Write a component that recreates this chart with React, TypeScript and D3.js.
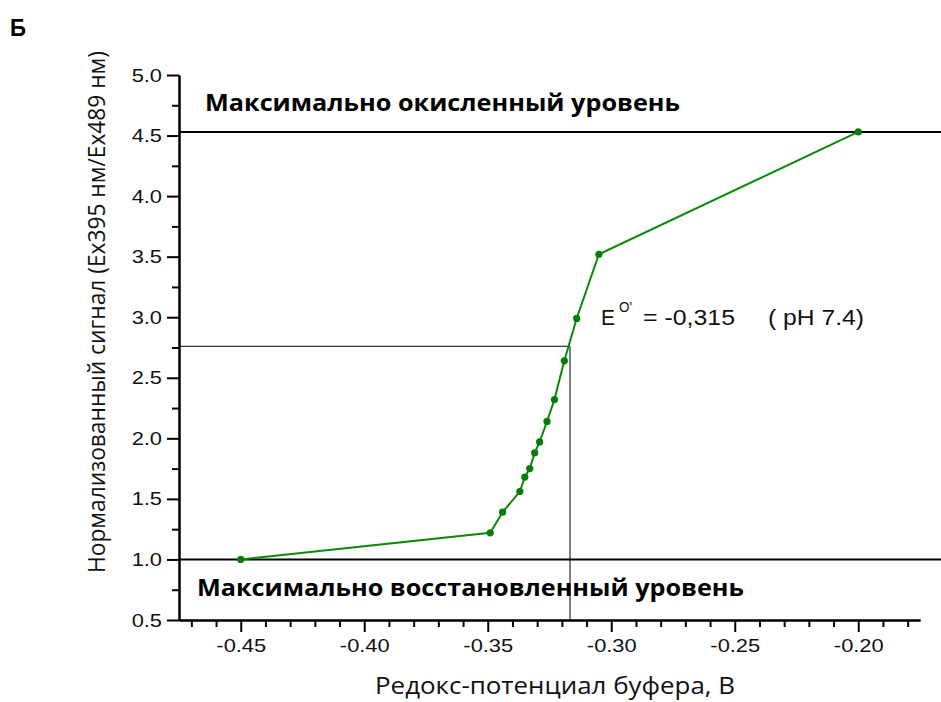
import React, { useEffect, useRef } from 'react';
import * as d3 from 'd3';

// measured redox titration points (buffer potential, V)
const potentials = [-0.45, -0.349, -0.344, -0.337, -0.335, -0.333, -0.331, -0.329, -0.326, -0.323, -0.319, -0.314, -0.305, -0.2];
const signals = [1.0, 1.22, 1.39, 1.56, 1.68, 1.75, 1.88, 1.97, 2.14, 2.32, 2.64, 2.99, 3.52, 4.53];

const xMajorTicks = [-0.45, -0.4, -0.35, -0.3, -0.25, -0.2];
const xMinorTicks = [-0.47, -0.46, -0.44, -0.43, -0.42, -0.41, -0.39, -0.38, -0.37, -0.36, -0.34, -0.33, -0.32, -0.31, -0.29, -0.28, -0.27, -0.26, -0.24, -0.23, -0.22, -0.21, -0.19, -0.18];
const yMajorTicks = [0.5, 1.0, 1.5, 2.0, 2.5, 3.0, 3.5, 4.0, 4.5, 5.0];
const yMinorTicks = [0.75, 1.25, 1.75, 2.25, 2.75, 3.25, 3.75, 4.25, 4.75];

const oxidizedLevel = 4.53;
const reducedLevel = 1.0;
const midpointX = -0.3167;
const midpointY = 2.76;

const W = 941;
const H = 702;
const margin = { left: 179, right: 21, top: 75, bottom: 82 };
const ARIAL = '"Liberation Sans", Arial, sans-serif';

const App = () => {
  const gRef = useRef<SVGGElement>(null);

  const x = d3.scaleLinear().domain([-0.475, -0.175]).range([margin.left, W - margin.right]);
  const y = d3.scaleLinear().domain([0.5, 5.0]).range([H - margin.bottom, margin.top]);

  useEffect(() => {
    const g = d3.select(gRef.current);
    g.selectAll('*').remove();
    const fmt1 = (d: any) => (+d).toFixed(1);
    const fmt2 = (d: any) => (+d).toFixed(2);

    // the original figure is a bit stretched horizontally
    const style = (sel: any) => {
      sel.selectAll('path').attr('stroke', '#000').attr('stroke-width', 2);
      sel.selectAll('line').attr('stroke', '#000').attr('stroke-width', 2);
      sel.selectAll('text')
        .attr('fill', '#111')
        .style('font-family', ARIAL)
        .style('font-size', '19px')
        .each(function (this: SVGTextElement) {
          const w = this.getComputedTextLength();
          if (w > 0) {
            this.setAttribute('textLength', String(w * 1.15));
            this.setAttribute('lengthAdjust', 'spacingAndGlyphs');
          }
        });
    };

    g.append('g')
      .attr('transform', `translate(0,${y(0.5)})`)
      .call(d3.axisBottom(x).tickValues(xMinorTicks).tickSize(7).tickFormat(() => '').tickSizeOuter(0))
      .call(style);
    g.append('g')
      .attr('transform', `translate(0,${y(0.5)})`)
      .call(d3.axisBottom(x).tickValues(xMajorTicks).tickSize(12).tickPadding(7).tickFormat(fmt2).tickSizeOuter(0))
      .call(style);

    g.append('g')
      .attr('transform', `translate(${x(-0.475)},0)`)
      .call(d3.axisLeft(y).tickValues(yMinorTicks).tickSize(7).tickFormat(() => '').tickSizeOuter(0))
      .call(style);
    g.append('g')
      .attr('transform', `translate(${x(-0.475)},0)`)
      .call(d3.axisLeft(y).tickValues(yMajorTicks).tickSize(12).tickPadding(5).tickFormat(fmt1).tickSizeOuter(0))
      .call(style);
  }, []);

  const line = d3.line<number>()
    .x((_, i) => x(potentials[i]))
    .y((d) => y(d));

  const x0 = x(-0.475);
  const yBase = y(0.5);

  return (
    <svg width={W} height={H} style={{ position: 'absolute', left: 0, top: 0, background: '#fff' }}>
      <text x={10} y={36} fontFamily={ARIAL} fontWeight="bold" fontSize={24}
        textLength={16} lengthAdjust="spacingAndGlyphs">Б</text>

      {/* level lines */}
      <line x1={x0} x2={W} y1={y(oxidizedLevel)} y2={y(oxidizedLevel)} stroke="#000" strokeWidth={2} />
      <line x1={x0} x2={W} y1={y(reducedLevel)} y2={y(reducedLevel)} stroke="#000" strokeWidth={2} />

      {/* midpoint guide lines */}
      <line x1={x0} x2={x(midpointX)} y1={y(midpointY)} y2={y(midpointY)} stroke="#000" strokeWidth={1} />
      <line x1={x(midpointX)} x2={x(midpointX)} y1={y(midpointY)} y2={yBase} stroke="#000" strokeWidth={1} />

      <g ref={gRef} />

      <path d={line(signals) || ''} fill="none" stroke="#0a8a0a" strokeWidth={2} />
      {signals.map((s, i) => (
        <circle key={i} cx={x(potentials[i])} cy={y(s)} r={3.6} fill="#077d07" />
      ))}

      <text x={205} y={111} fontFamily='"Open Sans", sans-serif' fontWeight="bold" fontSize={24}
        textLength={475} lengthAdjust="spacingAndGlyphs" fill="#000">Максимально окисленный уровень</text>
      <text x={197} y={596} fontFamily='"Open Sans", sans-serif' fontWeight="bold" fontSize={24}
        textLength={547} lengthAdjust="spacingAndGlyphs" fill="#000">Максимально восстановленный уровень</text>

      <g fontFamily={ARIAL} fill="#111">
        <text x={601} y={325} fontSize={22} textLength={14} lengthAdjust="spacingAndGlyphs">E</text>
        <text x={619} y={312} fontSize={14} textLength={13} lengthAdjust="spacingAndGlyphs">O'</text>
        <text x={643} y={325} fontSize={22} textLength={92} lengthAdjust="spacingAndGlyphs">= -0,315</text>
        <text x={768} y={325} fontSize={22} textLength={96} lengthAdjust="spacingAndGlyphs">( pH 7.4)</text>
      </g>

      <text x={555} y={694} textAnchor="middle" fontFamily='"Open Sans", sans-serif' fontSize={24}
        textLength={360} lengthAdjust="spacingAndGlyphs" fill="#111">Редокс-потенциал буфера, В</text>
      <text transform="translate(105,312) rotate(-90)" textAnchor="middle" fontFamily='"Open Sans", sans-serif'
        fontSize={24} textLength={522} lengthAdjust="spacingAndGlyphs" fill="#111">
        Нормализованный сигнал (Ex395 нм/Ex489 нм)
      </text>
    </svg>
  );
};

export default App;
